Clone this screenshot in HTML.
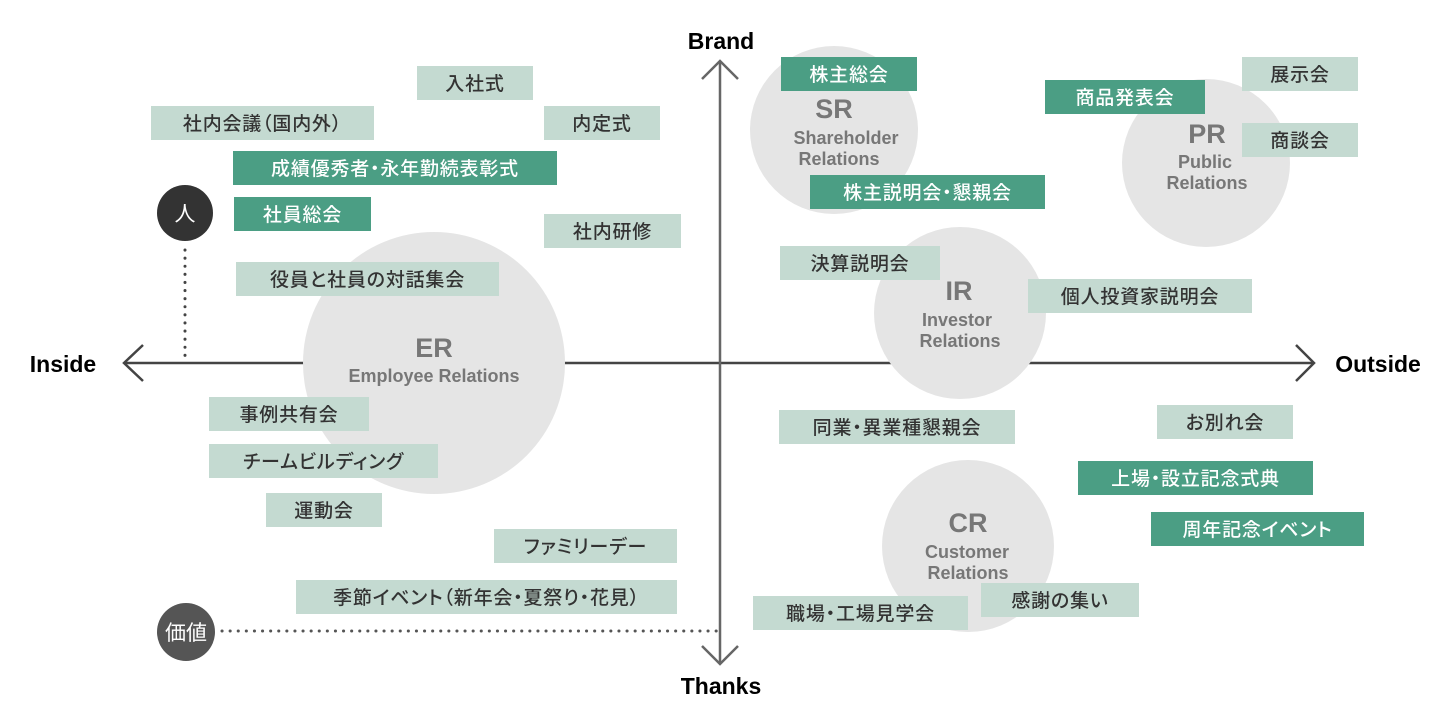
<!DOCTYPE html>
<html><head><meta charset="utf-8"><style>
html,body{margin:0;padding:0;background:#fff;width:1443px;height:726px;overflow:hidden}
.b{position:absolute;height:34px;line-height:37px;text-align:center;font-family:"Liberation Sans","Noto Sans CJK JP",sans-serif;font-size:19px;font-weight:500;color:#333;background:#c4dad1;white-space:nowrap;font-feature-settings:"palt";letter-spacing:0.8px}
.d{background:#4b9e84;color:#fff}
</style></head><body>
<svg width="1443" height="726" style="position:absolute;left:0;top:0" font-family="Liberation Sans, sans-serif">
<g stroke="#444" stroke-width="2.5" fill="none">
<line x1="124" y1="363" x2="1314" y2="363"/>
<polyline points="143,345 124,363 143,381"/>
<polyline points="1296,345 1314,363 1296,381"/>
<line x1="720" y1="61" x2="720" y2="664" stroke="#666"/>
<polyline points="702,79 720,61 738,79" stroke="#666"/>
<polyline points="702,646 720,664 738,646" stroke="#666"/>
</g>
<g stroke="#444" stroke-width="3" stroke-dasharray="0.1 8" stroke-linecap="round">
<line x1="185" y1="250" x2="185" y2="362"/>
<line x1="222" y1="631" x2="718" y2="631" stroke="#555"/>
</g>
<g fill="#e5e5e5">
<circle cx="834" cy="130" r="84"/>
<circle cx="1206" cy="163" r="84"/>
<circle cx="960" cy="313" r="86"/>
<circle cx="434" cy="363" r="131"/>
<circle cx="968" cy="546" r="86"/>
</g>
<g font-weight="bold" fill="#000" font-size="23" text-anchor="middle">
<text x="721" y="49">Brand</text>
<text x="721" y="694">Thanks</text>
<text x="63" y="372">Inside</text>
<text x="1378" y="372">Outside</text>
</g>
<g font-weight="bold" fill="#777" text-anchor="middle">
<text x="834" y="118" font-size="27">SR</text>
<text x="846" y="144" font-size="18">Shareholder</text>
<text x="839" y="165" font-size="18">Relations</text>
<text x="1207" y="143" font-size="27">PR</text>
<text x="1205" y="168" font-size="18">Public</text>
<text x="1207" y="189" font-size="18">Relations</text>
<text x="959" y="300" font-size="27">IR</text>
<text x="957" y="326" font-size="18">Investor</text>
<text x="960" y="347" font-size="18">Relations</text>
<text x="434" y="357" font-size="27">ER</text>
<text x="434" y="382" font-size="18">Employee Relations</text>
<text x="968" y="532" font-size="27">CR</text>
<text x="967" y="558" font-size="18">Customer</text>
<text x="968" y="579" font-size="18">Relations</text>
</g>
<circle cx="185" cy="213" r="28" fill="#333"/>
<circle cx="186" cy="632" r="29" fill="#555"/>
<g fill="#fff" font-family="Liberation Sans, Noto Sans CJK JP, sans-serif" text-anchor="middle" font-size="21">
<text x="185" y="221">人</text>
<text x="186" y="640">価値</text>
</g>
</svg>
<div class="b" style="left:417px;top:66px;width:116px">入社式</div>
<div class="b" style="left:151px;top:106px;width:223px">社内会議（国内外）</div>
<div class="b" style="left:544px;top:106px;width:116px">内定式</div>
<div class="b" style="left:544px;top:214px;width:137px">社内研修</div>
<div class="b" style="left:236px;top:262px;width:263px">役員と社員の対話集会</div>
<div class="b" style="left:209px;top:397px;width:160px">事例共有会</div>
<div class="b" style="left:209px;top:444px;width:229px">チームビルディング</div>
<div class="b" style="left:266px;top:493px;width:116px">運動会</div>
<div class="b" style="left:494px;top:529px;width:183px">ファミリーデー</div>
<div class="b" style="left:296px;top:580px;width:381px">季節イベント（新年会・夏祭り・花見）</div>
<div class="b" style="left:780px;top:246px;width:160px">決算説明会</div>
<div class="b" style="left:1028px;top:279px;width:224px">個人投資家説明会</div>
<div class="b" style="left:1242px;top:57px;width:116px">展示会</div>
<div class="b" style="left:1242px;top:123px;width:116px">商談会</div>
<div class="b" style="left:779px;top:410px;width:236px">同業・異業種懇親会</div>
<div class="b" style="left:1157px;top:405px;width:136px">お別れ会</div>
<div class="b" style="left:753px;top:596px;width:215px">職場・工場見学会</div>
<div class="b" style="left:981px;top:583px;width:158px">感謝の集い</div>
<div class="b d" style="left:233px;top:151px;width:324px">成績優秀者・永年勤続表彰式</div>
<div class="b d" style="left:234px;top:197px;width:137px">社員総会</div>
<div class="b d" style="left:781px;top:57px;width:136px">株主総会</div>
<div class="b d" style="left:810px;top:175px;width:235px">株主説明会・懇親会</div>
<div class="b d" style="left:1045px;top:80px;width:160px">商品発表会</div>
<div class="b d" style="left:1078px;top:461px;width:235px">上場・設立記念式典</div>
<div class="b d" style="left:1151px;top:512px;width:213px">周年記念イベント</div>
</body></html>
